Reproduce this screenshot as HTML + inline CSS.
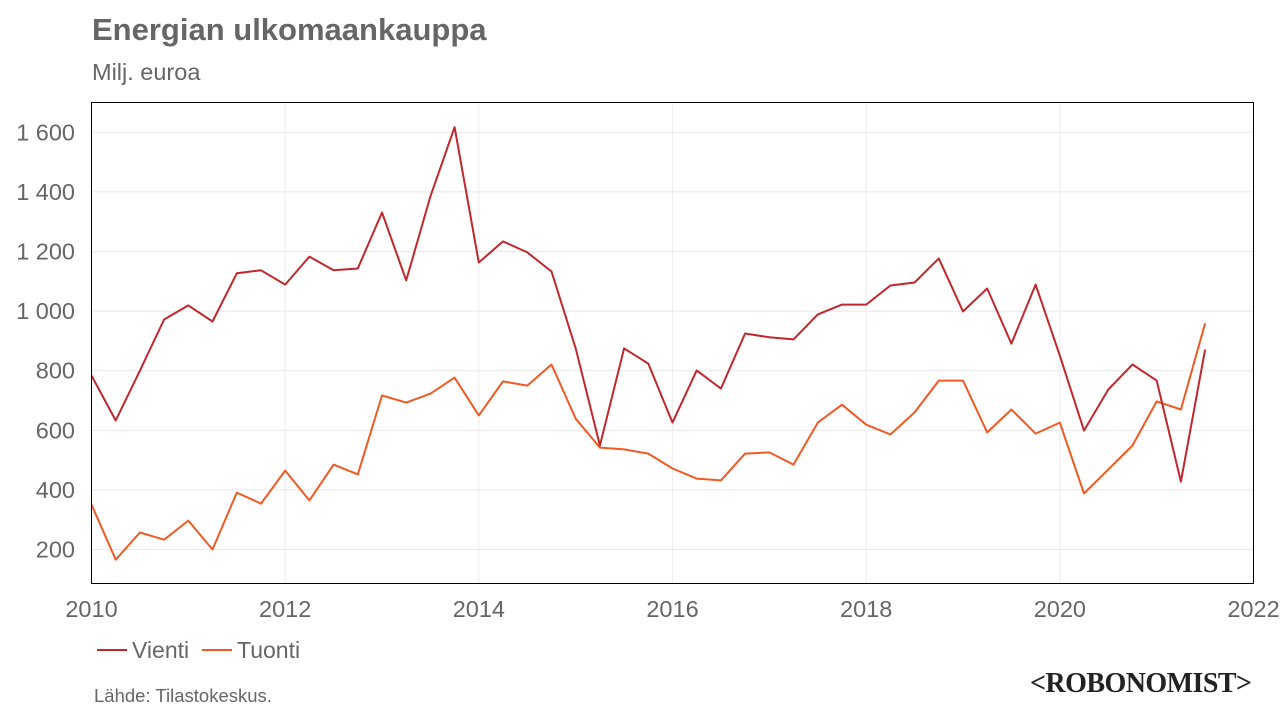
<!DOCTYPE html>
<html><head><meta charset="utf-8">
<style>
body{margin:0;width:1280px;height:720px;background:#fff;font-family:"Liberation Sans",sans-serif;overflow:hidden}
</style></head><body>
<svg id="c" width="1280" height="720">
<text x="92" y="40" font-size="31" font-weight="bold" fill="#666">Energian ulkomaankauppa</text>
<text x="92" y="80" font-size="23.5" fill="#666">Milj. euroa</text>
<g id="grid"></g>
<g id="lines"></g>
<rect x="91.5" y="102.5" width="1162" height="481" fill="none" stroke="#000" stroke-width="1"/>
<g id="ticks"></g>
<g>
<line x1="97" y1="650" x2="127" y2="650" stroke="#c1272d" stroke-width="2"/>
<text x="132" y="658" font-size="23" fill="#666">Vienti</text>
<line x1="202" y1="650" x2="232" y2="650" stroke="#f15a24" stroke-width="2"/>
<text x="237" y="658" font-size="23" fill="#666">Tuonti</text>
</g>
<text x="94" y="702" font-size="18.5" fill="#666">Lähde: Tilastokeskus.</text>
<text x="1252" y="692" text-anchor="end" font-size="28" font-family="Liberation Serif,serif" font-weight="bold" fill="#222" textLength="222">&lt;ROBONOMIST&gt;</text>
</svg>
<script>
const startYear = 2010;
const vienti = [784,633,800,972,1019,965,1127,1137,1089,1183,1137,1143,1331,1103,1385,1617,1163,1234,1197,1133,875,549,875,824,626,801,740,925,912,905,989,1022,1022,1086,1096,1177,999,1076,891,1089,851,599,737,821,767,428,871];
const tuonti = [351,166,257,233,297,200,391,354,465,365,485,452,717,693,723,777,650,764,750,821,639,542,536,522,472,438,432,522,526,485,626,686,619,586,660,767,767,593,670,589,626,388,469,549,697,670,959];
const yTicks = [200,400,600,800,1000,1200,1400,1600];
const yLabels = ["200","400","600","800","1 000","1 200","1 400","1 600"];
const xTicks = [2010,2012,2014,2016,2018,2020,2022];

const X0=91.5,X1=1253.5,Y0=583.5,Y1=102.5,YMIN=86,YMAX=1700;
const xs=t=>X0+(t-2010)/12*(X1-X0);
const ys=v=>Y0-(v-YMIN)/(YMAX-YMIN)*(Y0-Y1);
const NS="http://www.w3.org/2000/svg";
function mk(tag,attrs,parent){const e=document.createElementNS(NS,tag);for(const k in attrs)e.setAttribute(k,attrs[k]);document.getElementById(parent).appendChild(e);return e;}
yTicks.forEach((v,i)=>{
 const g=mk('line',{x1:X0,x2:X1,y1:ys(v),y2:ys(v),stroke:'#e8e8e8','stroke-width':1},'grid');
 
 
 const t=mk('text',{x:75,y:ys(v)+8,'text-anchor':'end','font-size':23.5,fill:'#666'},'ticks');
 t.textContent=yLabels[i];
 
 
});
xTicks.forEach(y=>{
 const g=mk('line',{x1:xs(y),x2:xs(y),y1:Y1,y2:Y0,stroke:'#ececec','stroke-width':1},'grid');
 
 
 const t=mk('text',{x:xs(y),y:617,'text-anchor':'middle','font-size':23.5,fill:'#666'},'ticks');
 t.textContent=y;
 
 
});
function line(data,color,name){
 const d=data.map((v,i)=>(i?'L':'M')+xs(startYear+i/4).toFixed(1)+','+ys(v).toFixed(1)).join('');
 const p=mk('path',{d:d,fill:'none',stroke:color,'stroke-width':2,'stroke-linejoin':'round'},'lines');
 
 
}
line(tuonti,'#f15a24','tuonti-line');
line(vienti,'#c1272d','vienti-line');
</script>
</body></html>
